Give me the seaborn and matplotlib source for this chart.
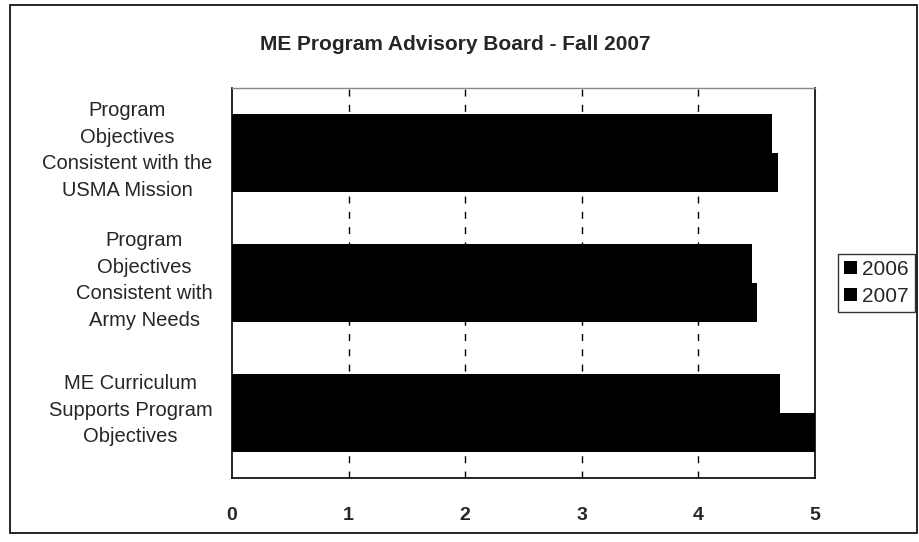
import pandas as pd
import matplotlib.pyplot as plt
import matplotlib.patches as patches
import matplotlib.transforms as mtransforms
import seaborn as sns

categories = [
    'Program\nObjectives\nConsistent with the\nUSMA Mission',
    'Program\nObjectives\nConsistent with\nArmy Needs',
    'ME Curriculum\nSupports Program\nObjectives',
]
years = ['2006', '2007']
scores_2006 = [4.63, 4.46, 4.70]
scores_2007 = [4.68, 4.50, 5.00]

df = pd.DataFrame({
    'item': categories * 2,
    'year': [years[0]] * 3 + [years[1]] * 3,
    'score': scores_2006 + scores_2007,
})

sns.set_style('white')
plt.rcParams['font.family'] = ['Liberation Sans', 'DejaVu Sans']

fig = plt.figure(figsize=(9.2, 5.42), dpi=100)
ax = fig.add_axes([232 / 920, 1 - 478 / 542, 583 / 920, 390 / 542])

sns.barplot(data=df, x='score', y='item', hue='year', orient='h',
            palette=['black', 'black'], width=0.6, saturation=1,
            linewidth=0, ax=ax)

ax.set_xlim(0, 5)
ax.set_ylim(2.5, -0.5)
ax.set_xticks(range(6))
ax.set_xticklabels([str(i) for i in range(6)], fontsize=14, fontweight='bold')
ax.tick_params(axis='x', direction='inout', length=8, width=1, pad=17)

# category labels at group centres, tick marks between groups
ax.set_yticks(range(3))
ax.set_yticklabels(categories, fontsize=14.5, multialignment='center',
                   linespacing=1.5)
ax.tick_params(axis='y', which='major', length=0, pad=14)
ax.set_yticks([-0.5, 0.5, 1.5, 2.5], minor=True)
ax.tick_params(axis='y', which='minor', direction='out', length=6, width=1)
shift = mtransforms.ScaledTranslation(0, 6 / 72, fig.dpi_scale_trans)
for lab in ax.get_yticklabels():
    lab.set_transform(lab.get_transform() + shift)

ax.set_xlabel('')
ax.set_ylabel('')

for xv in [1, 2, 3, 4]:
    ax.axvline(xv, color='black', linestyle=(0, (5, 6)), linewidth=1, zorder=0)

for side in ['left', 'bottom', 'right']:
    ax.spines[side].set_color('black')
    ax.spines[side].set_linewidth(1.2)
ax.spines['top'].set_color('#888888')
ax.spines['top'].set_linewidth(1)

fig.text(455 / 920, 1 - 45 / 542, 'ME Program Advisory Board - Fall 2007',
         ha='center', va='center', fontsize=15, fontweight='bold')

handles, labels = ax.get_legend_handles_labels()
ax.legend(handles, labels, loc='center left',
          bbox_to_anchor=(838 / 920, 1 - 283 / 542),
          bbox_transform=fig.transFigure, frameon=True, fancybox=False,
          edgecolor='black', fontsize=15, handlelength=0.6,
          handleheight=0.6, handletextpad=0.25, borderpad=0.3,
          labelspacing=0.4, borderaxespad=0)

fig.patches.append(patches.Rectangle((10 / 920, 1 - 533 / 542),
                                     907 / 920, 528 / 542,
                                     transform=fig.transFigure, fill=False,
                                     edgecolor='black', linewidth=1.2))

fig.savefig('out.png', dpi=100)
